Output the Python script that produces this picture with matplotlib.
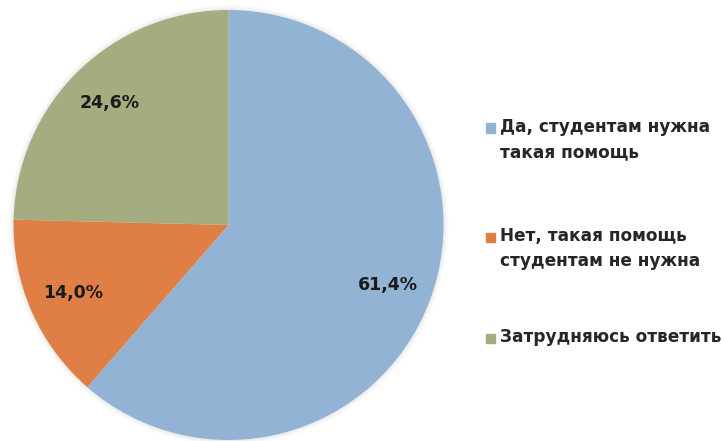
import matplotlib.pyplot as plt
from matplotlib.patches import Rectangle, Circle

# Survey answers
labels = ["Да, студентам нужна\nтакая помощь",
          "Нет, такая помощь\nстудентам не нужна",
          "Затрудняюсь ответить"]
shares = [61.4, 14.0, 24.6]
colors = ["#93B3D5", "#E07F45", "#A5AC7F"]

W, H = 724, 441
fig = plt.figure(figsize=(W / 100, H / 100), dpi=100)
fig.patch.set_facecolor("white")

# pie placed in pixel box
cx, cy, r = 228.5, 225, 215
ax = fig.add_axes([(cx - r) / W, (H - cy - r) / H, 2 * r / W, 2 * r / H])
ax.set_aspect("equal")
ax.axis("off")

# soft shadow round the pie
for i, a in enumerate([0.05, 0.04, 0.03, 0.02]):
    ax.add_patch(Circle((0, 0), 1.0 + 0.006 * (i + 1), color="#888888",
                        alpha=a, lw=0, zorder=0, clip_on=False))

wedges, texts, autotexts = ax.pie(
    shares, colors=colors, startangle=90, counterclock=False, radius=1,
    autopct=lambda p: f"{p:.1f}%".replace(".", ","), pctdistance=0.79,
    wedgeprops=dict(linewidth=0),
    textprops=dict(fontsize=12.5, fontweight="bold", color="#1a1a1a"))
for w in wedges:
    w.set_zorder(2)
for t in autotexts:
    t.set_zorder(3)
ax.set_xlim(-1, 1)
ax.set_ylim(-1, 1)

# legend drawn by hand to match spacing
leg_y = [128, 237, 338]
for lab, col, y in zip(labels, colors, leg_y):
    fig.patches.append(Rectangle((486 / W, (H - y - 4.5) / H), 9 / W, 9 / H,
                                 transform=fig.transFigure, color=col))
    fig.text(500 / W, (H - y + 9.5) / H, lab, fontsize=12.2, fontweight="bold",
             color="#262626", va="top", ha="left", linespacing=1.45)

plt.savefig("out.png", dpi=100)
